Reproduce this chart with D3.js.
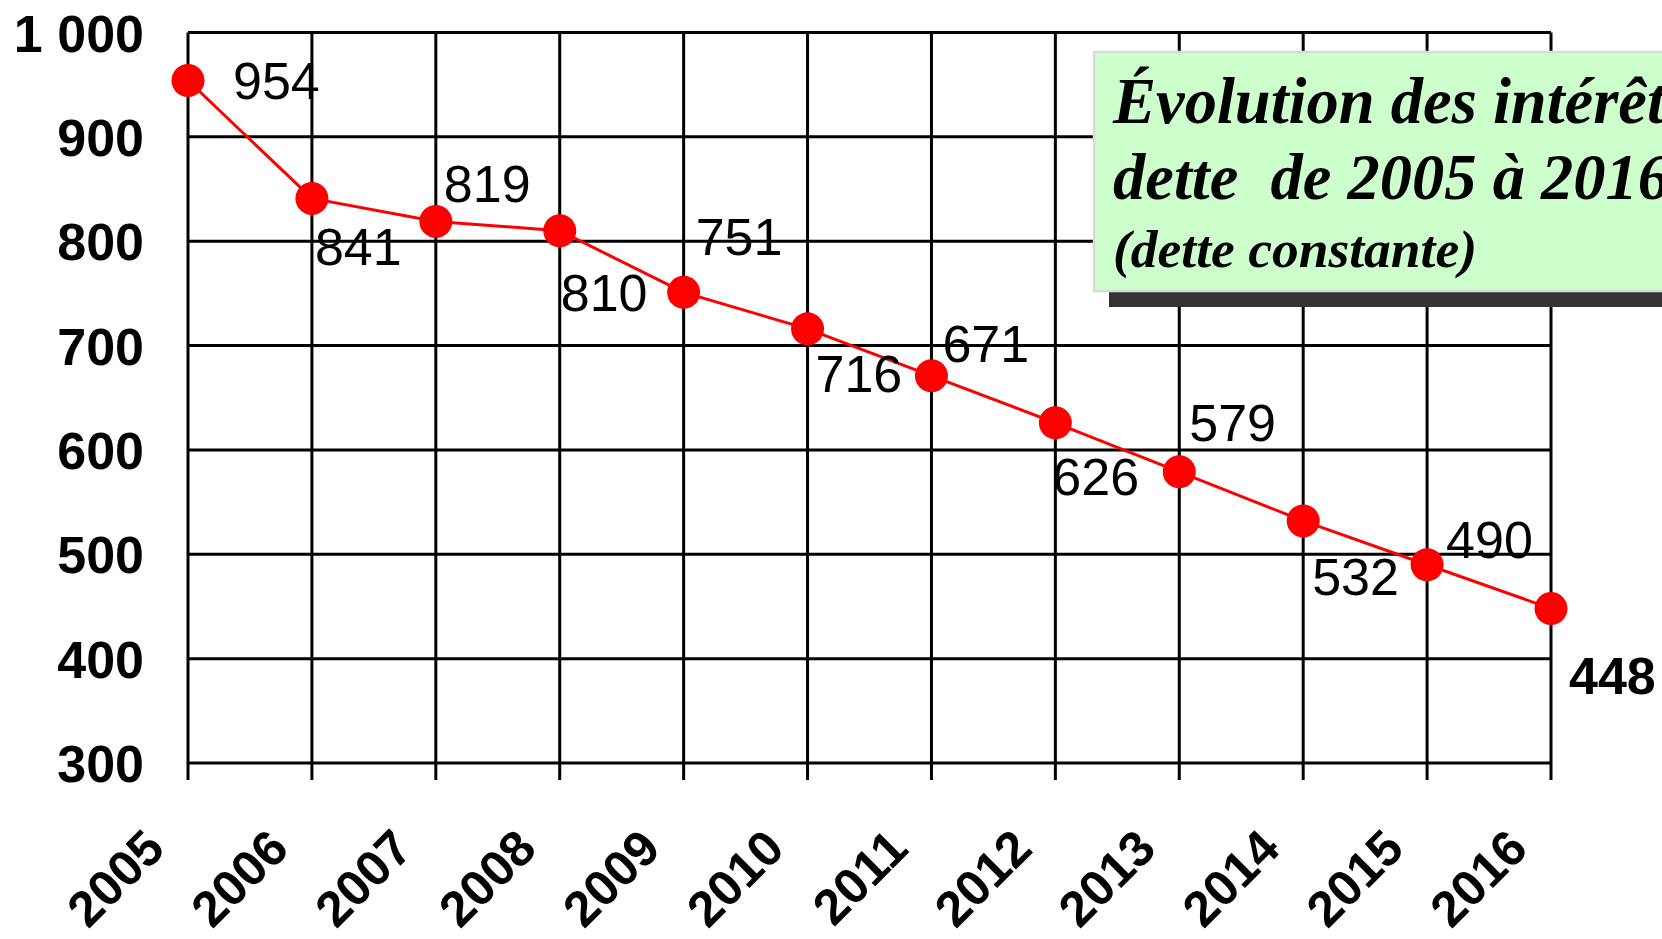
<!DOCTYPE html>
<html>
<head>
<meta charset="utf-8">
<script src="https://cdn.jsdelivr.net/npm/d3@7"></script>
<style>
  html, body { margin: 0; padding: 0; background: #fff; overflow: hidden; }
  svg { display: block; }
</style>
</head>
<body>
<svg id="chart" width="1662" height="939"></svg>
<script>
// ---- data ----
const years = ["2005","2006","2007","2008","2009","2010","2011","2012","2013","2014","2015","2016"];
const values = [954, 841, 819, 810, 751, 716, 671, 626, 579, 532, 490, 448];
const yTicks = [300, 400, 500, 600, 700, 800, 900, 1000];
const titleLines = ["Évolution des intérêts de la", "dette  de 2005 à 2016", "(dette constante)"];

// ---- label placement (layout only) ----
const labelOffsets = [
  [45, 18], [3, 67], [8, -19], [1, 80], [12, -37], [8, 63],
  [11, -14], [-3, 72], [10, -31], [9, 74], [19, -7], [18, 85]
];

const svg = d3.select("#chart");
const plotLeft = 188, plotRight = 1551, plotTop = 32.5, plotBottom = 763;

const x = d3.scalePoint().domain(years).range([plotLeft, plotRight]);
const y = d3.scaleLinear().domain([300, 1000]).range([plotBottom, plotTop]);

const fmt = v => v >= 1000 ? d3.format(",")(v).replace(",", " ") : String(v);

// horizontal grid
svg.append("g").selectAll("line").data(yTicks).join("line")
  .attr("x1", plotLeft).attr("x2", plotRight)
  .attr("y1", d => y(d)).attr("y2", d => y(d))
  .attr("stroke", "#000").attr("stroke-width", 3);

// vertical grid + ticks
svg.append("g").selectAll("line").data(years).join("line")
  .attr("x1", d => x(d)).attr("x2", d => x(d))
  .attr("y1", plotTop).attr("y2", plotBottom + 17)
  .attr("stroke", "#000").attr("stroke-width", 3);

// y tick labels
svg.append("g").selectAll("text").data(yTicks).join("text")
  .attr("x", 144).attr("y", d => y(d) + 19)
  .attr("text-anchor", "end")
  .attr("font-family", "'Liberation Sans', Arial, sans-serif")
  .attr("font-weight", "bold").attr("font-size", 52)
  .text(fmt);

// x tick labels
svg.append("g").selectAll("text").data(years).join("text")
  .attr("transform", d => `translate(${x(d) - 21},${plotBottom + 88}) rotate(-45)`)
  .attr("text-anchor", "end")
  .attr("font-family", "'Liberation Sans', Arial, sans-serif")
  .attr("font-weight", "bold").attr("font-size", 50)
  .text(d => d);

// title box
const tb = svg.append("g");
tb.append("rect").attr("x", 1109).attr("y", 292).attr("width", 600).attr("height", 15).attr("fill", "#333");
tb.append("rect").attr("x", 1094).attr("y", 52).attr("width", 600).attr("height", 239)
  .attr("fill", "#ccffcc").attr("stroke", "#d9d9d9").attr("stroke-width", 2.5);
const titleY = [123, 199, 267];
const titleSize = [64.5, 64.5, 53.5];
tb.selectAll("text").data(titleLines).join("text")
  .attr("x", 1113).attr("y", (d, i) => titleY[i])
  .attr("font-family", "'Liberation Serif', 'Times New Roman', serif")
  .attr("font-weight", "bold").attr("font-style", "italic")
  .attr("font-size", (d, i) => titleSize[i])
  .style("white-space", "pre")
  .text(d => d);

// line
svg.append("path").datum(values)
  .attr("d", d3.line().x((d, i) => x(years[i])).y(d => y(d)))
  .attr("fill", "none").attr("stroke", "#ff0000").attr("stroke-width", 3);

// points
svg.append("g").selectAll("circle").data(values).join("circle")
  .attr("cx", (d, i) => x(years[i])).attr("cy", d => y(d))
  .attr("r", 16.5).attr("fill", "#ff0000");

// value labels
svg.append("g").selectAll("text").data(values).join("text")
  .attr("x", (d, i) => x(years[i]) + labelOffsets[i][0])
  .attr("y", (d, i) => y(d) + labelOffsets[i][1])
  .attr("font-family", "'Liberation Sans', Arial, sans-serif")
  .attr("font-size", 52)
  .attr("font-weight", (d, i) => i === values.length - 1 ? "bold" : "normal")
  .text(d => d);
</script>
</body>
</html>
